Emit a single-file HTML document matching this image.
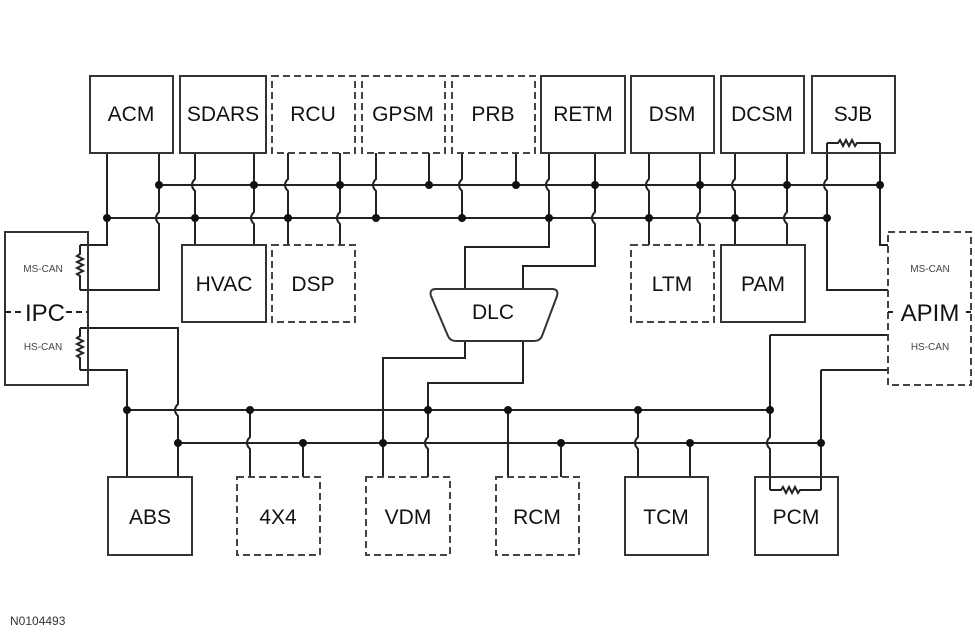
<!DOCTYPE html>
<html><head><meta charset="utf-8"><style>
html,body{margin:0;padding:0;background:#fff;}
svg{display:block;}
text{font-family:"Liberation Sans",Arial,sans-serif;fill:#111;}
.b{fill:#fff;stroke:#333;stroke-width:2;}
.d{fill:#fff;stroke:#444;stroke-width:2;stroke-dasharray:7,4;}
.w{fill:none;stroke:#222;stroke-width:2;}
.t{font-size:21px;text-anchor:middle;}
.L{font-size:24px;text-anchor:middle;}
.s{font-size:10px;fill:#444;text-anchor:middle;}
</style></head><body>
<svg width="975" height="639" viewBox="0 0 975 639" xmlns="http://www.w3.org/2000/svg">
<path class="w" d="M159 185 H880 M107 218 H827 M127 410 H770 M178 443 H821"/>
<path class="w" d="
M107 153 V245 H80
M159 153 V212 Q153 218 159 224 V290 H80
M195 153 V179 Q189 185 195 191 V245
M254 153 V212 Q248 218 254 224 V245
M288 153 V179 Q282 185 288 191 V245
M340 153 V212 Q334 218 340 224 V245
M376 153 V179 Q370 185 376 191 V218
M429 153 V185
M462 153 V179 Q456 185 462 191 V218
M516 153 V185
M549 153 V179 Q543 185 549 191 V247 H465 V289
M595 153 V212 Q589 218 595 224 V266 H523 V289
M649 153 V179 Q643 185 649 191 V245
M700 153 V212 Q694 218 700 224 V245
M735 153 V179 Q729 185 735 191 V245
M787 153 V212 Q781 218 787 224 V245
M827 143 V179 Q821 185 827 191 V290 H888
M880 143 V245 H888
M465 341 V358 H383 V477
M523 341 V383 H428 V437 Q422 443 428 449 V477
M80 328 H178 V404 Q172 410 178 416 V477
M80 370 H127 V477
M250 410 V437 Q244 443 250 449 V477
M303 443 V477
M508 410 V477
M561 443 V477
M638 410 V437 Q632 443 638 449 V477
M690 443 V477
M770 335 H888 M770 335 V437 Q764 443 770 449 V490
M821 370 H888 M821 370 V490
"/>
<path class="w" stroke-width="1.3" d="M827 143 H838 l2 -3 l3 6 l3 -6 l3 6 l3 -6 l3 6 l2 -3 H880"/>
<path class="w" stroke-width="1.3" d="M770 490 H781 l2 -3 l3 6 l3 -6 l3 6 l3 -6 l3 6 l2 -3 H821"/>
<path class="w" stroke-width="1.3" d="M80 245 V254 l-3 2 l6 3 l-6 3 l6 3 l-6 3 l6 3 l-6 3 l3 2 V290"/>
<path class="w" stroke-width="1.3" d="M80 328 V336 l-3 2 l6 3 l-6 3 l6 3 l-6 3 l6 3 l-6 3 l3 2 V370"/>
<g fill="#111">
<circle cx="159" cy="185" r="4"/><circle cx="254" cy="185" r="4"/><circle cx="340" cy="185" r="4"/><circle cx="429" cy="185" r="4"/><circle cx="516" cy="185" r="4"/><circle cx="595" cy="185" r="4"/><circle cx="700" cy="185" r="4"/><circle cx="787" cy="185" r="4"/><circle cx="880" cy="185" r="4"/>
<circle cx="107" cy="218" r="4"/><circle cx="195" cy="218" r="4"/><circle cx="288" cy="218" r="4"/><circle cx="376" cy="218" r="4"/><circle cx="462" cy="218" r="4"/><circle cx="549" cy="218" r="4"/><circle cx="649" cy="218" r="4"/><circle cx="735" cy="218" r="4"/><circle cx="827" cy="218" r="4"/>
<circle cx="127" cy="410" r="4"/><circle cx="250" cy="410" r="4"/><circle cx="428" cy="410" r="4"/><circle cx="508" cy="410" r="4"/><circle cx="638" cy="410" r="4"/><circle cx="770" cy="410" r="4"/>
<circle cx="178" cy="443" r="4"/><circle cx="303" cy="443" r="4"/><circle cx="383" cy="443" r="4"/><circle cx="561" cy="443" r="4"/><circle cx="690" cy="443" r="4"/><circle cx="821" cy="443" r="4"/>
</g>
<rect class="b" x="90" y="76" width="83" height="77"/><text class="t" x="131" y="121">ACM</text>
<rect class="b" x="180" y="76" width="86" height="77"/><text class="t" x="223" y="121">SDARS</text>
<rect class="d" x="272" y="76" width="83" height="77"/><text class="t" x="313" y="121">RCU</text>
<rect class="d" x="362" y="76" width="83" height="77"/><text class="t" x="403" y="121">GPSM</text>
<rect class="d" x="452" y="76" width="83" height="77"/><text class="t" x="493" y="121">PRB</text>
<rect class="b" x="541" y="76" width="84" height="77"/><text class="t" x="583" y="121">RETM</text>
<rect class="b" x="631" y="76" width="83" height="77"/><text class="t" x="672" y="121">DSM</text>
<rect class="b" x="721" y="76" width="83" height="77"/><text class="t" x="762" y="121">DCSM</text>
<rect class="b" x="812" y="76" width="83" height="77" style="fill:none"/><text class="t" x="853" y="121">SJB</text>
<rect class="b" x="182" y="245" width="84" height="77"/><text class="t" x="224" y="291">HVAC</text>
<rect class="d" x="272" y="245" width="83" height="77"/><text class="t" x="313" y="291">DSP</text>
<rect class="d" x="631" y="245" width="83" height="77"/><text class="t" x="672" y="291">LTM</text>
<rect class="b" x="721" y="245" width="84" height="77"/><text class="t" x="763" y="291">PAM</text>
<path class="b" d="M436 289 H552 Q559 289 557 296 L542 336 Q540 341 534 341 H456 Q450 341 448 336 L431 296 Q429 289 436 289 Z"/>
<text class="t" x="493" y="319">DLC</text>
<rect class="b" x="5" y="232" width="83" height="153" style="fill:none"/>
<path class="w" stroke-dasharray="6,4" d="M5 312 H24 M66 312 H88"/>
<text class="L" x="45" y="321">IPC</text>
<text class="s" x="43" y="272">MS-CAN</text>
<text class="s" x="43" y="350">HS-CAN</text>
<rect class="d" x="888" y="232" width="83" height="153" style="fill:none"/>
<path class="w" d="M888 312 H893 M966 312 H971"/>
<text class="L" x="930" y="321">APIM</text>
<text class="s" x="930" y="272">MS-CAN</text>
<text class="s" x="930" y="350">HS-CAN</text>
<rect class="b" x="108" y="477" width="84" height="78"/><text class="t" x="150" y="524">ABS</text>
<rect class="d" x="237" y="477" width="83" height="78"/><text class="t" x="278" y="524">4X4</text>
<rect class="d" x="366" y="477" width="84" height="78"/><text class="t" x="408" y="524">VDM</text>
<rect class="d" x="496" y="477" width="83" height="78"/><text class="t" x="537" y="524">RCM</text>
<rect class="b" x="625" y="477" width="83" height="78"/><text class="t" x="666" y="524">TCM</text>
<rect class="b" x="755" y="477" width="83" height="78" style="fill:none"/><text class="t" x="796" y="524">PCM</text>
<text x="10" y="625" style="font-size:12px;fill:#333">N0104493</text>
</svg>
</body></html>
